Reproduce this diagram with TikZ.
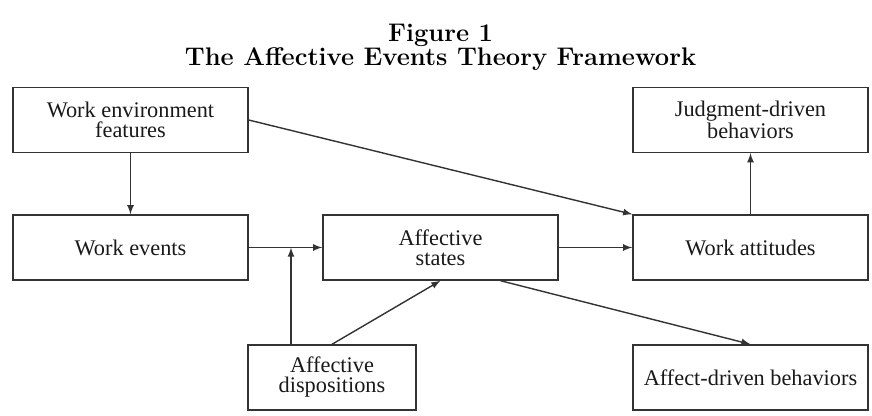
\documentclass[tikz,border=0pt]{standalone}
\usepackage{fontspec}
\usepackage{tikz}
\usetikzlibrary{arrows}
\newfontfamily\boxfont{Liberation Serif}
\tikzstyle{block} = [rectangle, minimum width=4.7cm, minimum height=1.3cm, text centered, align=center, draw=black!80, line width=0.8pt, text=black!90, font=\boxfont\fontsize{12.7}{11.4}\selectfont]
\tikzstyle{smallblock} = [block, minimum width=3.36cm]
\tikzstyle{heading} = [align=center, text=black, font=\fontsize{14.5}{14.2}\selectfont\bfseries]
\tikzstyle{arrow} = [line width=0.8pt, draw=black!80, ->, >=latex]

\begin{document}
\begin{tikzpicture}[node distance=2.55cm]
\useasboundingbox (-2.61,-3.37) rectangle (14.83,4.95);
\node (events) [block] {Work events};
\node (env) [block, above of=events] {Work environment\\features};
\node (states) [block, right of=events, xshift=3.65cm] {Affective\\states};
\node (attitudes) [block, right of=states, xshift=3.65cm] {Work attitudes};
\node (judgment) [block, above of=attitudes] {Judgment-driven\\behaviors};
\node (affect) [block, below of=attitudes, yshift=-0.05cm] {Affect-driven behaviors};
\node (disp) [smallblock, below of=states, xshift=-2.17cm, yshift=-0.05cm] {Affective\\dispositions};
\node (title) [heading, above of=states, yshift=1.08cm, anchor=base] {Figure 1\\The Affective Events Theory Framework};

\coordinate (joinx) at ([xshift=-0.82cm]disp.north);
\coordinate (join) at (joinx |- events.east);

\draw [arrow] (env) -- (events);
\draw [arrow] (env.east) -- (attitudes.north west);
\draw [arrow] (events) -- (states);
\draw [arrow] (joinx) -- (join);
\draw [arrow] (disp.north) -- (states.south);
\draw [arrow] (states) -- (attitudes);
\draw [arrow] (attitudes) -- (judgment);
\draw [arrow] ([xshift=1.2cm]states.south) -- (affect.north);
\end{tikzpicture}
\end{document}
